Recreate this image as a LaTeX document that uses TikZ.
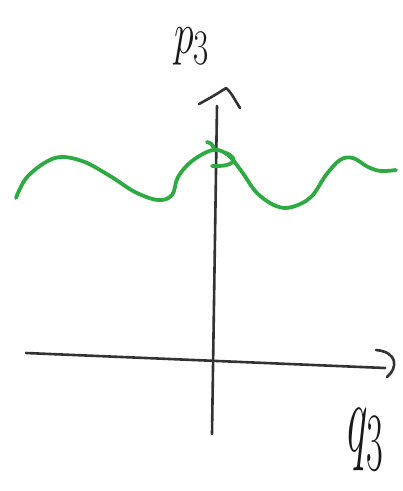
\documentclass[tikz,border=0pt]{standalone}
\usepackage{graphicx}
\definecolor{pen}{RGB}{50,50,50}
\definecolor{greenpen}{RGB}{45,170,65}
\begin{document}
\begin{tikzpicture}[x=1pt,y=-1pt,
  axis/.style={draw=pen,line width=2.6pt,line cap=round,line join=round},
  wave/.style={draw=greenpen,line width=3.8pt,line cap=round,line join=round},
  lbl/.style={inner sep=0pt,text=black!90}]
\useasboundingbox (0,0) rectangle (403,491);
% axes
\coordinate (vb) at (212,434);
\coordinate (vt) at (217,106);
\coordinate (hl) at (26,353);
\coordinate (hr) at (385,368);
\draw[axis] (vb) -- (vt);
\draw[axis] (hl) -- (hr);
% arrowheads (hand-drawn)
\coordinate (va1) at (199,104);
\coordinate (va2) at (226,88);
\coordinate (va3) at (240,108);
\draw[axis] (va1) .. controls (212,97) and (220,92) .. (va2) .. controls (231,92) and (235,100) .. (va3);
\coordinate (ha1) at (376,350);
\coordinate (ha2) at (387,377);
\draw[axis] (ha1) .. controls (398,352) and (398,368) .. (ha2);
% green wave
\draw[wave] plot[smooth,tension=0.6] coordinates {(16,198) (28,176) (55,158) (82,161) (110,176) (135,192) (158,200) (172,195) (178,177) (192,161) (213,150) (228,155) (242,172) (257,193) (276,206) (292,207) (311,197) (326,175) (340,160) (353,158) (368,167) (381,171) (396,170)};
\draw[wave] (226,153) .. controls (240,159) and (234,167) .. (212,166);
\draw[wave] (207,142) .. controls (211,143) and (213,145) .. (214,148);
% labels
\node[lbl] (p) at (192,46) {\scalebox{1.6}[2.4]{\Huge$p_3$}};
\node[lbl] (q) at (366,440) {\scalebox{1.75}[4.0]{\Huge$q_3$}};
\end{tikzpicture}
\end{document}
